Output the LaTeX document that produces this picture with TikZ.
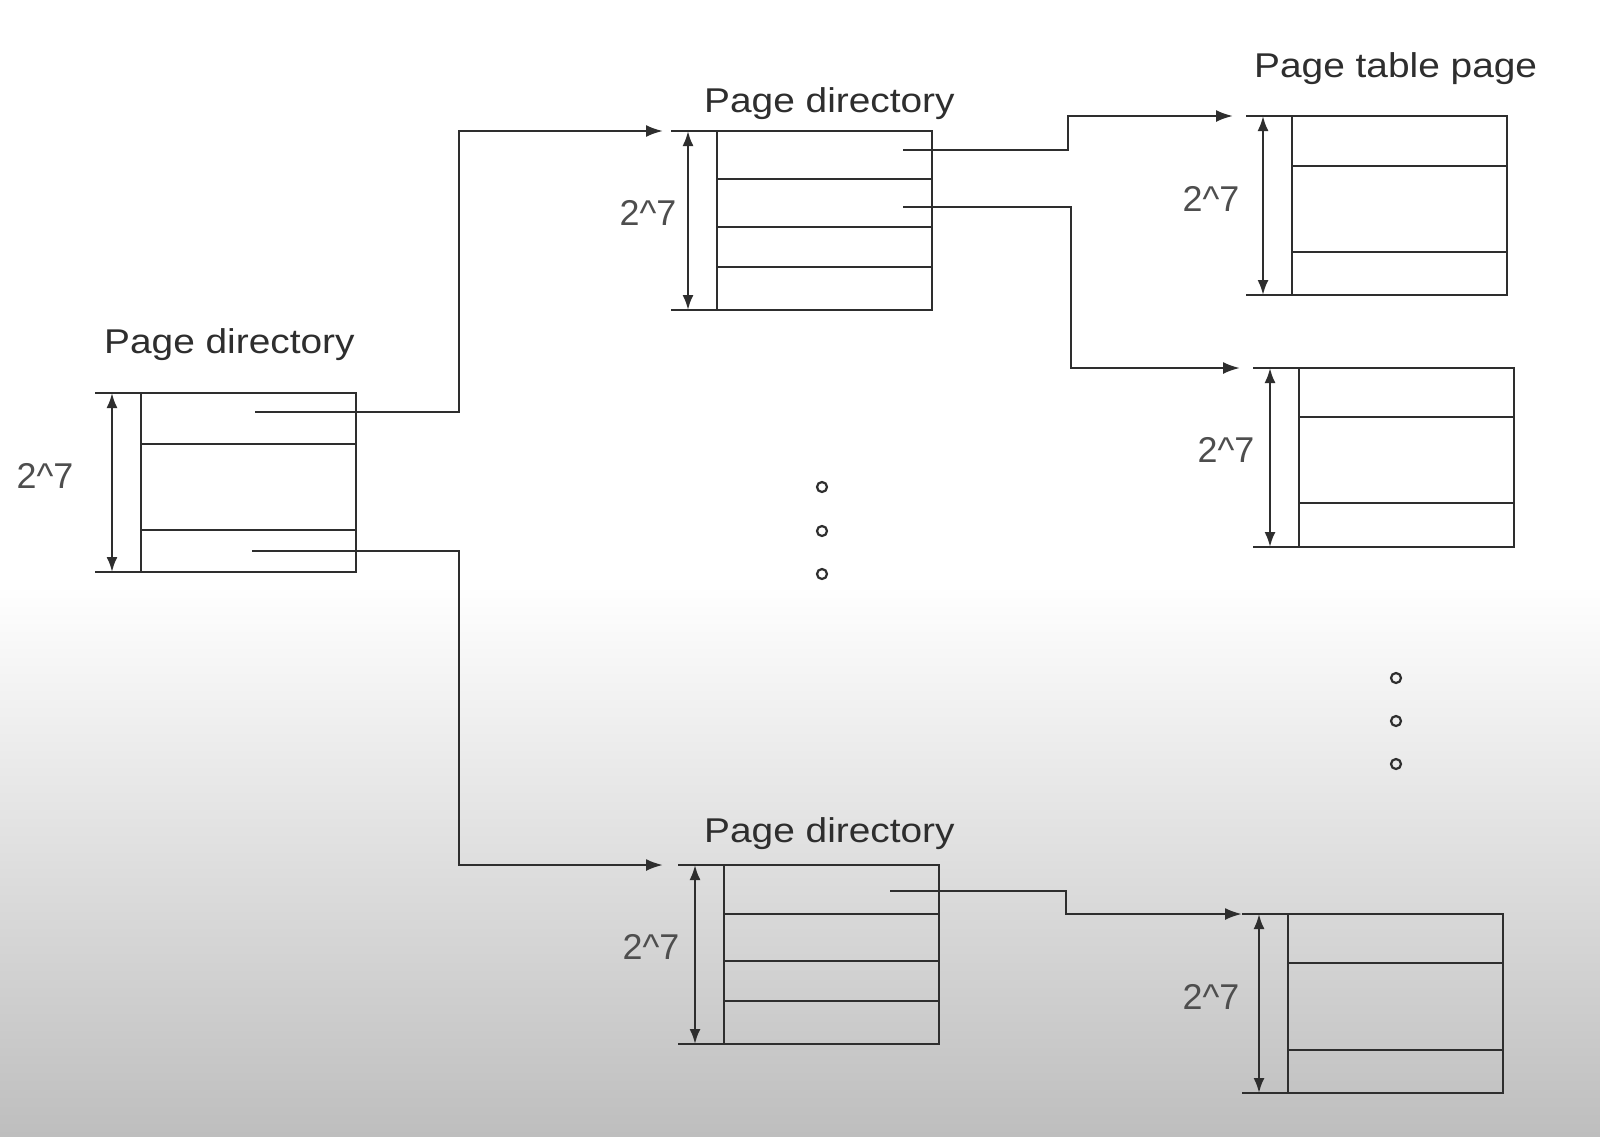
\documentclass[tikz,border=0pt]{standalone}
\usepackage{fontspec}
\setmainfont{Liberation Sans}
\newfontfamily\ttlfont{Liberation Sans}[FakeStretch=1.13]
\usetikzlibrary{arrows.meta,calc}
\definecolor{ln}{HTML}{2E2E2E}
\definecolor{lbl}{HTML}{4E4E4E}
\definecolor{bgbot}{HTML}{BEBEBE}
\begin{document}
\begin{tikzpicture}[x=1bp,y=-1bp,
  tbl/.style={draw=ln, line width=2.8bp, minimum width=215bp, minimum height=179bp, anchor=north west, inner sep=0pt, outer sep=0pt},
  rowline/.style={draw=ln, line width=2.8bp},
  tickline/.style={draw=ln, line width=2.8bp},
  dimline/.style={draw=ln, line width=2.3bp, {Latex[length=15bp,width=11bp]}-{Latex[length=15bp,width=11bp]}},
  ptr/.style={draw=ln, line width=2.4bp, -{Latex[length=17bp,width=12bp]}},
  ttl/.style={anchor=base west, inner sep=0pt, text=ln, font=\ttlfont\fontsize{34.5}{40}\selectfont},
  sz/.style={inner sep=0pt, text=lbl, font=\fontsize{36}{40}\selectfont},
  dotc/.style={circle, draw=ln, line width=2.2bp, minimum size=10bp, inner sep=0pt}
]
\useasboundingbox (0,0) rectangle (1600,1136);
\fill[white] (0,0) rectangle (1600,1136);
\shade[top color=white, bottom color=bgbot] (0,585) rectangle (1600,1136);

% titles
\node[ttl] (t0) at (104,353) {Page directory};
\node[ttl] (t1) at (704,112) {Page directory};
\node[ttl] (t4) at (704,842) {Page directory};
\node[ttl] (t2) at (1254,77) {Page table page};

% tables
\node[tbl] (T0) at (141,393) {};
\node[tbl] (T1) at (717,131) {};
\node[tbl] (T2) at (1292,116) {};
\node[tbl] (T3) at (1299,368) {};
\node[tbl] (T4) at (724,865) {};
\node[tbl] (T5) at (1288,914) {};

% rows
\draw[rowline] (T0.west |- 0,444) -- (T0.east |- 0,444);
\draw[rowline] (T0.west |- 0,530) -- (T0.east |- 0,530);
\draw[rowline] (T1.west |- 0,179) -- (T1.east |- 0,179);
\draw[rowline] (T1.west |- 0,227) -- (T1.east |- 0,227);
\draw[rowline] (T1.west |- 0,267) -- (T1.east |- 0,267);
\draw[rowline] (T2.west |- 0,166) -- (T2.east |- 0,166);
\draw[rowline] (T2.west |- 0,252) -- (T2.east |- 0,252);
\draw[rowline] (T3.west |- 0,417) -- (T3.east |- 0,417);
\draw[rowline] (T3.west |- 0,503) -- (T3.east |- 0,503);
\draw[rowline] (T4.west |- 0,914) -- (T4.east |- 0,914);
\draw[rowline] (T4.west |- 0,961) -- (T4.east |- 0,961);
\draw[rowline] (T4.west |- 0,1001) -- (T4.east |- 0,1001);
\draw[rowline] (T5.west |- 0,963) -- (T5.east |- 0,963);
\draw[rowline] (T5.west |- 0,1050) -- (T5.east |- 0,1050);

% dimension marks
\foreach \t in {T0,T1,T2,T3,T4,T5}{
  \draw[tickline] ($(\t.north west)+(-46,0)$) -- (\t.north west);
  \draw[tickline] ($(\t.south west)+(-46,0)$) -- (\t.south west);
  \draw[dimline] ($(\t.north west)+(-29,0)$) -- ($(\t.south west)+(-29,0)$);
}

% size labels
\node[sz] (s0) at (45,476) {2\textasciicircum 7};
\node[sz] (s1) at (648,213) {2\textasciicircum 7};
\node[sz] (s2) at (1211,199) {2\textasciicircum 7};
\node[sz] (s3) at (1226,450) {2\textasciicircum 7};
\node[sz] (s4) at (651,947) {2\textasciicircum 7};
\node[sz] (s5) at (1211,997) {2\textasciicircum 7};

% pointer sources and targets
\coordinate (p1s) at (255,412);
\coordinate (p2s) at (252,551);
\coordinate (p3s) at (903,150);
\coordinate (p4s) at (903,207);
\coordinate (p5s) at (890,891);
\coordinate (T1in) at ($(T1.north west)+(-54,0)$);
\coordinate (T4in) at ($(T4.north west)+(-61,0)$);
\coordinate (T2in) at ($(T2.north west)+(-59,0)$);
\coordinate (T3in) at ($(T3.north west)+(-59,0)$);
\coordinate (T5in) at ($(T5.north west)+(-46,0)$);

\draw[ptr] (p1s) -| (459,131) -- (T1in);
\draw[ptr] (p2s) -| (459,865) -- (T4in);
\draw[ptr] (p3s) -| (1068,116) -- (T2in);
\draw[ptr] (p4s) -| (1071,368) -- (T3in);
\draw[ptr] (p5s) -| (1066,914) -- (T5in);

% ellipsis dots
\node[dotc] (d1) at (822,487) {};
\node[dotc] (d2) at (822,531) {};
\node[dotc] (d3) at (822,574) {};
\node[dotc] (d4) at (1396,678) {};
\node[dotc] (d5) at (1396,721) {};
\node[dotc] (d6) at (1396,764) {};
\end{tikzpicture}
\end{document}
